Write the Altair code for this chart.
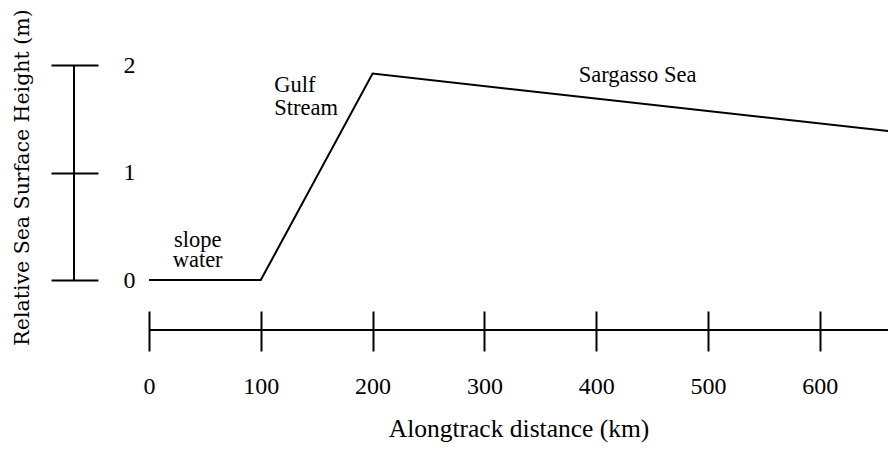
import altair as alt
import pandas as pd

# profile of sea surface height along the track
dist_km = [0, 100, 200, 700]
ssh_m = [0.0, 0.0, 1.92, 1.34]

x_ticks = [0, 100, 200, 300, 400, 500, 600]
y_ticks = [0, 1, 2]

# region annotations
left_text = ["Gulf", "Stream"]
left_x = [112, 112]
left_y = [1.749, 1.535]

center_text = ["Sargasso Sea", "slope", "water"]
center_x = [437, 43.5, 43.5]
center_y = [1.842, 0.307, 0.121]

X_MAX = 661
Y_MIN, Y_MAX = -0.465, 2.484

SERIF = "'Liberation Serif', 'Times New Roman', serif"

x_enc = alt.X(
    "km:Q",
    scale=alt.Scale(domain=[0, X_MAX], nice=False, zero=False),
    axis=alt.Axis(
        values=x_ticks, orient="bottom", offset=-19, tickSize=40, tickWidth=2,
        tickColor="black", domain=False, grid=False, format="d",
        labelFont=SERIF, labelFontSize=24, labelColor="black",
        labelPadding=42, labelBaseline="alphabetic", labelFlush=False,
        title="Alongtrack distance (km)", titleFont=SERIF, titleFontSize=25.5,
        titleFontWeight="normal", titleColor="black", titleBaseline="alphabetic",
        titleY=125,
    ),
)
y_enc = alt.Y(
    "m:Q",
    scale=alt.Scale(domain=[Y_MIN, Y_MAX], nice=False, zero=False),
    axis=alt.Axis(
        values=y_ticks, orient="left", offset=51, tickSize=47, tickWidth=2,
        tickColor="black", domain=False, grid=False, format="d",
        labelFont=SERIF, labelFontSize=24, labelColor="black",
        labelPadding=-84, labelBaseline="middle", labelFlush=False,
        title="Relative Sea Surface Height (m)", titleFont="DejaVu Serif",
        titleFontSize=20.5, titleFontWeight="normal", titleColor="black",
        titleAngle=270, titleX=-76, titleY=164, titleAlign="center",
        titleBaseline="middle",
    ),
)

profile = pd.DataFrame({"km": dist_km, "m": ssh_m})
line = alt.Chart(profile).mark_line(color="black", strokeWidth=2, clip=True).encode(
    x=x_enc, y=y_enc
)

yrule_df = pd.DataFrame({"m": [y_ticks[0]], "m2": [y_ticks[-1]]})
yrule = alt.Chart(yrule_df).mark_rule(color="black", strokeWidth=2).encode(
    y=y_enc, y2="m2:Q", x=alt.value(-75)
)

xrule_df = pd.DataFrame({"km": [0], "km2": [X_MAX], "m": [Y_MIN]})
xrule = alt.Chart(xrule_df).mark_rule(color="black", strokeWidth=2).encode(
    x=x_enc, x2="km2:Q", y=y_enc
)

left_df = pd.DataFrame({"km": left_x, "m": left_y, "t": left_text})
left_labels = alt.Chart(left_df).mark_text(
    align="left", baseline="alphabetic", font=SERIF, fontSize=22.5, color="black"
).encode(x=x_enc, y=y_enc, text="t:N")

center_df = pd.DataFrame({"km": center_x, "m": center_y, "t": center_text})
center_labels = alt.Chart(center_df).mark_text(
    align="center", baseline="alphabetic", font=SERIF, fontSize=22.5, color="black"
).encode(x=x_enc, y=y_enc, text="t:N")

chart = (
    alt.layer(line, yrule, xrule, left_labels, center_labels)
    .properties(
        width=739,
        height=317,
        background="white",
        autosize=alt.AutoSizeParams(type="none"),
        padding={"left": 141, "top": 5, "right": 0, "bottom": 113},
    )
    .configure_view(strokeWidth=0, stroke="transparent")
)

chart.save("out.html", embed_options={"renderer": "svg", "actions": False})
